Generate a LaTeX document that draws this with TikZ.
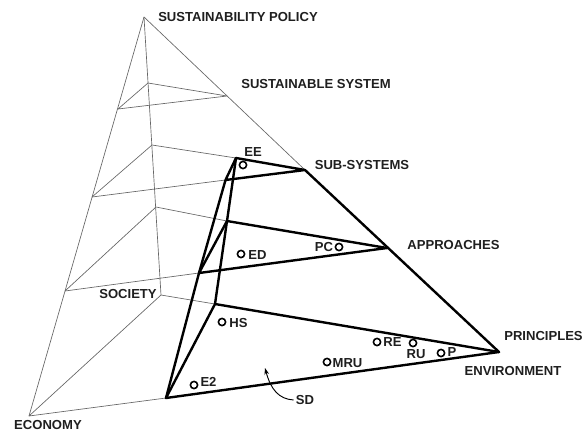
\documentclass[tikz,border=0pt]{standalone}
\usepackage{fontspec}
\setmainfont{Liberation Sans}
\usetikzlibrary{arrows.meta}
\tikzset{
  thinline/.style={draw=black!60,line width=0.5pt,line join=round},
  thickline/.style={draw=black,line width=1.8pt,line join=round,line cap=round},
  lab/.style={font=\fontsize{9.8}{11}\selectfont\bfseries,text=black!88,inner sep=0pt,anchor=center},
  mark circle/.style={circle,draw=black,line width=1.2pt,minimum size=5.4pt,inner sep=0pt},
}
\begin{document}
\begin{tikzpicture}[x=0.75pt,y=-0.75pt]
\useasboundingbox (0,0) rectangle (585,433);
% corner points
\coordinate (A) at (144,17);
\coordinate (Ec) at (29,416);
\coordinate (So) at (161,295);
\coordinate (En) at (166,398);
\coordinate (Hs) at (215,304);
\coordinate (Pr) at (499,352);
% level: sustainable system
\coordinate (L1r) at (227,96);
\coordinate (L1b) at (148,83);
\coordinate (L1l) at (118,109);
% level: sub-systems
\coordinate (L2r) at (305,170);
\coordinate (L2b) at (152,145);
\coordinate (L2l) at (92,197);
\coordinate (L2t) at (236,158);
\coordinate (L2f) at (225.5,180);
% level: approaches
\coordinate (L3r) at (387,248);
\coordinate (L3b) at (156,207);
\coordinate (L3l) at (65,291);
\coordinate (L3t) at (227,221);
\coordinate (L3f) at (199,273);
% thin frame
\draw[thinline] (Ec) -- (A) -- (L2r);
\draw[thinline] (A) -- (So) -- (Ec) -- (En);
\draw[thinline] (So) -- (Hs);
\draw[thinline] (L1l) -- (L1b) -- (L1r) -- (L1l);
\draw[thinline] (L2l) -- (L2b) -- (L2t);
\draw[thinline] (L2l) -- (L2f);
\draw[thinline] (L3l) -- (L3b) -- (L3t);
\draw[thinline] (L3l) -- (L3f);
% thick frame
\draw[thickline] (L2r) -- (Pr) -- (En) -- (L3f) -- (L2f) -- (L2t) -- (L2r) -- (L2f);
\draw[thickline] (L2t) -- (L3t) -- (Hs) -- (Pr);
\draw[thickline] (L3r) -- (L3t) -- (L3f) -- (L3r);
\draw[thickline] (En) -- (Hs);
% outer labels
\node[lab] (t1) at (238,17) {SUSTAINABILITY POLICY};
\node[lab] (t2) at (316,84) {SUSTAINABLE SYSTEM};
\node[lab] (t3) at (362,165) {SUB-SYSTEMS};
\node[lab] (t4) at (453.5,245) {APPROACHES};
\node[lab] (t5) at (543.5,336) {PRINCIPLES};
\node[lab] (t6) at (513,371) {ENVIRONMENT};
\node[lab] (t7) at (128,294) {SOCIETY};
\node[lab] (t8) at (48,425) {ECONOMY};
% point markers
\node[mark circle] (cEE) at (243,165) {};
\node[mark circle] (cED) at (241,254) {};
\node[mark circle] (cPC) at (339,247) {};
\node[mark circle] (cHS) at (222,322) {};
\node[mark circle] (cE2) at (194,385) {};
\node[mark circle] (cMRU) at (327,362) {};
\node[mark circle] (cRE) at (377,342) {};
\node[mark circle] (cRU) at (413,343) {};
\node[mark circle] (cP) at (441,353) {};
\node[lab] (lEE) at (253,151.5) {EE};
\node[lab] (lED) at (257.5,255) {ED};
\node[lab] (lPC) at (324,247) {PC};
\node[lab] (lHS) at (238.5,323) {HS};
\node[lab] (lE2) at (208.5,382) {E2};
\node[lab] (lMRU) at (347.5,363) {MRU};
\node[lab] (lRE) at (392.5,342) {RE};
\node[lab] (lRU) at (416,354) {RU};
\node[lab] (lP) at (452,352) {P};
% SD pointer
\node[lab] (lSD) at (305,400) {SD};
\coordinate (sdtip) at (265,368);
\draw[black,line width=0.7pt,-{Stealth[length=5pt,width=3.5pt]}] (lSD.west) ++(-2,0) .. controls (279,399) and (271,390) .. (sdtip);
\end{tikzpicture}
\end{document}
